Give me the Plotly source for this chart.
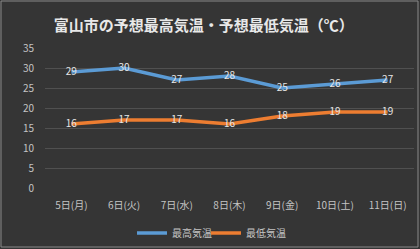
import plotly.graph_objects as go

categories = ["5日(月)", "6日(火)", "7日(水)", "8日(木)", "9日(金)", "10日(土)", "11日(日)"]
high_temps = [29, 30, 27, 28, 25, 26, 27]
low_temps = [16, 17, 17, 16, 18, 19, 19]
y_ticks = [0, 5, 10, 15, 20, 25, 30, 35]

FONT = "Noto Sans CJK JP"

fig = go.Figure()
fig.add_trace(go.Scatter(
    x=categories, y=high_temps, name="最高気温", mode="lines+text",
    line=dict(color="#5B9BD5", width=3.5),
    text=[str(v) for v in high_temps], textposition="middle center",
    textfont=dict(family=FONT, size=10, color="#e6e6e6"),
))
fig.add_trace(go.Scatter(
    x=categories, y=low_temps, name="最低気温", mode="lines+text",
    line=dict(color="#ED7D31", width=3.5),
    text=[str(v) for v in low_temps], textposition="middle center",
    textfont=dict(family=FONT, size=10, color="#e6e6e6"),
))
# invisible spacer entry so the last legend label is not clipped
fig.add_trace(go.Scatter(
    x=[None], y=[None], name=" ", mode="lines",
    line=dict(color="rgba(0,0,0,0)", width=0), hoverinfo="skip",
))

fig.update_layout(
    width=420, height=249,
    margin=dict(l=45, r=6, t=48, b=61, autoexpand=False),
    paper_bgcolor="#353535",
    plot_bgcolor="rgba(0,0,0,0)",
    title=dict(text="<b>富山市の予想最高気温・予想最低気温（℃）</b>", x=0.485, xanchor="center",
               y=0.895, yanchor="middle",
               font=dict(family=FONT, size=15, color="#e8e8e8")),
    xaxis=dict(showgrid=False, zeroline=False, showline=False, automargin=False,
               tickfont=dict(family=FONT, size=10, color="#c4c4c4"), ticks="",
               range=[-0.5, 6.5], ticklabelstandoff=10),
    yaxis=dict(range=[0, 35], tickvals=y_ticks, showgrid=True, gridcolor="#505050",
               gridwidth=1, zeroline=False, showline=False, ticks="", automargin=False,
               tickfont=dict(family=FONT, size=10, color="#c4c4c4"), ticklabelstandoff=10),
    legend=dict(orientation="h", x=0.5366, xanchor="center",
                yref="container", y=1 - 233 / 249, yanchor="middle",
                font=dict(family=FONT, size=10, color="#c4c4c4"),
                bgcolor="rgba(0,0,0,0)", itemwidth=30,
                entrywidth=29, entrywidthmode="pixels"),
    showlegend=True,
    shapes=[
        dict(type="rect", xref="x domain", yref="y domain", x0=-44/369, x1=1+4/369,
             y0=-59/140, y1=1+47/140, line=dict(color="#8a8a8a", width=1),
             fillcolor="rgba(0,0,0,0)", layer="below"),
    ],
)
fig.write_html("out.html")
